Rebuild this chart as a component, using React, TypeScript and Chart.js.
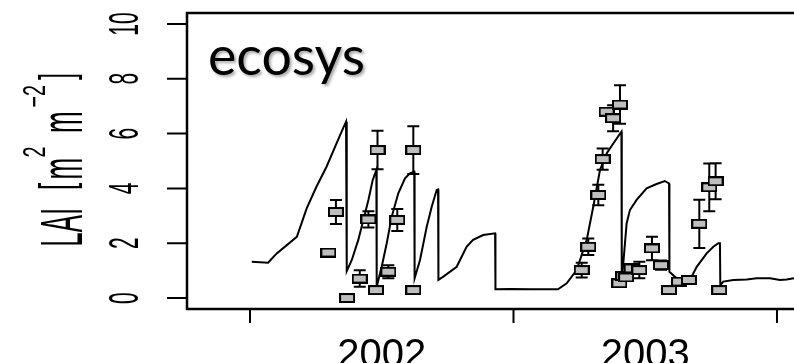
import { useEffect, useRef } from "react";
import Chart from "chart.js/auto";

// Modelled LAI (days since 1 Jan 2002)
const lineDays = [
  2.4, 25, 37, 51, 65, 78.5, 92, 106, 120, 129, 133, 134,
  141, 150, 157, 164, 170, 175, 175.5,
  182.4, 189.4, 196.3, 205.4, 214.7, 221.6, 227.5, 228,
  235.5, 244.8, 251.7, 258.6, 260.5, 261,
  267.8, 286.3, 300, 309, 323, 339.5, 340,
  360, 390, 410, 426.6,
  438.7, 452.5, 466.4, 475.5, 484.8, 494.1, 503.2, 514.5, 515,
  517.5, 521.7, 526.3, 535.5, 549.4, 563.2, 574.6, 580.5, 581,
  591, 600.2, 609.5, 618.8, 632.6, 641.8, 648.8, 651, 651.5,
  655.6, 669.5, 688, 701.9, 720.3, 734.2, 743.4, 753.5, 770,
];
const lineLai = [
  1.32, 1.29, 1.63, 1.93, 2.24, 3.27, 4.06, 4.79, 5.65, 6.2, 6.43, 0.98,
  1.39, 2.12, 2.85, 3.58, 4.31, 4.67, 0.41,
  1.14, 2.0, 2.97, 3.82, 4.37, 4.55, 4.61, 0.72,
  1.39, 2.6, 3.33, 3.94, 3.96, 0.66,
  0.78, 1.14, 1.87, 2.12, 2.3, 2.36, 0.32,
  0.33, 0.32, 0.32, 0.32,
  0.54, 1.02, 2.12, 3.33, 4.67, 5.28, 5.64, 6.07, 0.6,
  1.39, 2.72, 3.21, 3.58, 4.0, 4.16, 4.27, 4.18, 0.96,
  0.72, 0.6, 0.66, 1.14, 1.63, 1.87, 2.0, 2.0, 0.47,
  0.6, 0.66, 0.68, 0.72, 0.72, 0.66, 0.68, 0.72, 0.72,
];

// Measured LAI with standard deviation
const obsDays = [
  108.5, 119, 134.5, 152, 164, 176.6, 174.5, 191.6, 204, 226.2, 226.2,
  459.5, 468.6, 482.5, 488.5, 494, 503, 512.5, 511.6, 517, 521, 528.7, 539.3,
  556.8, 569.3, 580.4, 594.3, 608, 622.4, 636.2, 645, 650,
];
const obsLai = [
  1.66, 3.14, 0.0, 0.71, 2.87, 5.4, 0.29, 0.96, 2.85, 5.4, 0.29,
  1.02, 1.87, 3.76, 5.07, 6.8, 6.56, 7.06, 0.54, 0.8, 0.75, 1.08, 1.02,
  1.81, 1.2, 0.29, 0.6, 0.66, 2.71, 4.04, 4.26, 0.29,
];
const obsErr = [
  0, 0.44, 0, 0.3, 0.3, 0.7, 0, 0.24, 0.4, 0.87, 0,
  0.27, 0.3, 0.37, 0.39, 0, 0.47, 0.7, 0, 0, 0, 0.15, 0.3,
  0.43, 0.17, 0, 0, 0, 0.88, 0.87, 0.66, 0,
];

const yTicks = [0, 2, 4, 6, 8, 10];
const yearTickDays = [0, 365, 730];
const yearLabels = ["2002", "2003"];
const yearLabelDays = [182.5, 547.5];
const panelLabel = "ecosys";

const X_MIN = -87.3;
const X_MAX = 770.2;
const Y_MIN = -0.4;
const Y_MAX = 10.4;

const CANVAS_W = 812;
const CANVAS_H = 363;

function makeRectMarker(): HTMLCanvasElement {
  const c = document.createElement("canvas");
  c.width = 16;
  c.height = 10;
  const g = c.getContext("2d")!;
  g.fillStyle = "#bebebe";
  g.fillRect(0, 0, 16, 10);
  g.strokeStyle = "#000";
  g.lineWidth = 2;
  g.strokeRect(1, 1, 14, 8);
  return c;
}

const errorBarPlugin = {
  id: "errorBars",
  beforeDatasetDraw(chart: any, args: any) {
    if (args.index !== 1) return;
    const { ctx, scales } = chart;
    ctx.save();
    ctx.strokeStyle = "#000";
    ctx.lineWidth = 2;
    ctx.beginPath();
    obsDays.forEach((d, i) => {
      const e = obsErr[i];
      if (!e) return;
      const x = scales.x.getPixelForValue(d);
      const yt = scales.y.getPixelForValue(obsLai[i] + e);
      const yb = scales.y.getPixelForValue(obsLai[i] - e);
      ctx.moveTo(x, yt);
      ctx.lineTo(x, yb);
      ctx.moveTo(x - 6, yt);
      ctx.lineTo(x + 6, yt);
      ctx.moveTo(x - 6, yb);
      ctx.lineTo(x + 6, yb);
    });
    ctx.stroke();
    ctx.restore();
  },
};

function drawPiece(
  ctx: CanvasRenderingContext2D,
  text: string,
  start: number,
  dy: number,
  font: string,
  along: number,
  across: number
) {
  ctx.save();
  ctx.font = font;
  const m = ctx.measureText(text);
  ctx.translate(start + m.actualBoundingBoxLeft * along, dy);
  ctx.scale(along, across);
  ctx.fillText(text, 0, 0);
  ctx.restore();
}

const framePlugin = {
  id: "frame",
  afterDraw(chart: any) {
    const { ctx, chartArea: a, scales } = chart;
    const xs = scales.x;
    const ys = scales.y;
    ctx.save();
    ctx.strokeStyle = "#000";
    ctx.lineWidth = 2.5;
    ctx.strokeRect(a.left, a.top, a.right - a.left, a.bottom - a.top);

    ctx.lineWidth = 2;
    ctx.beginPath();
    yTicks.forEach((v) => {
      const y = ys.getPixelForValue(v);
      ctx.moveTo(a.left - 20, y);
      ctx.lineTo(a.left, y);
    });
    yearTickDays.forEach((d) => {
      const x = xs.getPixelForValue(d);
      ctx.moveTo(x, a.bottom);
      ctx.lineTo(x, a.bottom + 14);
    });
    ctx.stroke();

    ctx.fillStyle = "#000";
    ctx.textBaseline = "alphabetic";

    // y tick labels, rotated and narrow
    ctx.font = '42px "Liberation Sans", Arial, sans-serif';
    ctx.textAlign = "center";
    yTicks.forEach((v) => {
      const y = ys.getPixelForValue(v);
      ctx.save();
      ctx.translate(a.left - 49, y);
      ctx.rotate(-Math.PI / 2);
      ctx.scale(0.5, 1);
      ctx.fillText(String(v), 0, 0);
      ctx.restore();
    });

    // year labels
    ctx.font = '40px "Liberation Sans", Arial, sans-serif';
    yearLabels.forEach((t, i) => {
      ctx.fillText(t, xs.getPixelForValue(yearLabelDays[i]), a.bottom + 57.5);
    });

    // y axis title: LAI [m^2 m^-2]
    ctx.textAlign = "left";
    const cy = (a.top + a.bottom) / 2;
    ctx.save();
    ctx.translate(a.left - 105.3, cy + 84);
    ctx.rotate(-Math.PI / 2);
    const main = '60px "Liberation Sans", Arial, sans-serif';
    const sup = '46px "Liberation Sans", Arial, sans-serif';
    const k = 0.433;
    drawPiece(ctx, "LAI", 0, 0, main, k, 1);
    drawPiece(ctx, "[", 56.7, -9.5, main, k, 0.78);
    drawPiece(ctx, "m", 66.7, 0, main, k, 1);
    drawPiece(ctx, "2", 88.3, -37, sup, k, 0.7);
    drawPiece(ctx, "m", 113.3, 0, main, k, 1);
    drawPiece(ctx, "\u22122", 138.3, -37, sup, k, 0.7);
    drawPiece(ctx, "]", 165, -9.5, main, k, 0.78);
    ctx.restore();

    // panel label
    let size = 52;
    ctx.font = `${size}px Lato, "Open Sans", sans-serif`;
    const w = ctx.measureText(panelLabel).width;
    size = (size * 157) / w;
    ctx.font = `${size}px Lato, "Open Sans", sans-serif`;
    ctx.shadowColor = "rgba(0,0,0,0.35)";
    ctx.shadowBlur = 3;
    ctx.shadowOffsetX = 2;
    ctx.shadowOffsetY = 2;
    ctx.fillStyle = "#000";
    ctx.fillText(panelLabel, 208, 75);
    ctx.restore();
  },
};

export default function App() {
  const ref = useRef<HTMLCanvasElement | null>(null);

  useEffect(() => {
    if (!ref.current) return;
    const marker = makeRectMarker();
    const chart = new Chart(ref.current, {
      type: "line",
      data: {
        datasets: [
          {
            label: "ecosys",
            data: lineDays.map((d, i) => ({ x: d, y: lineLai[i] })),
            borderColor: "#000",
            borderWidth: 2,
            pointRadius: 0,
            tension: 0,
            fill: false,
            order: 2,
          },
          {
            label: "observed",
            data: obsDays.map((d, i) => ({ x: d, y: obsLai[i] })),
            showLine: false,
            pointStyle: marker as any,
            pointRadius: 5,
            order: 1,
          },
        ],
      },
      options: {
        animation: false,
        responsive: false,
        events: [],
        layout: {
          padding: {
            left: 187,
            top: 13,
            right: CANVAS_W - 806,
            bottom: CANVAS_H - 309,
          },
        },
        plugins: {
          legend: { display: false },
          tooltip: { enabled: false },
        },
        scales: {
          x: { type: "linear", min: X_MIN, max: X_MAX, display: false },
          y: { type: "linear", min: Y_MIN, max: Y_MAX, display: false },
        },
      },
      plugins: [errorBarPlugin, framePlugin],
    });
    return () => chart.destroy();
  }, []);

  return (
    <div
      style={{
        position: "fixed",
        left: 0,
        top: 0,
        width: 794,
        height: 363,
        overflow: "hidden",
        background: "#fff",
      }}
    >
      <canvas
        ref={ref}
        width={CANVAS_W}
        height={CANVAS_H}
        style={{ display: "block", width: CANVAS_W, height: CANVAS_H }}
      />
    </div>
  );
}
